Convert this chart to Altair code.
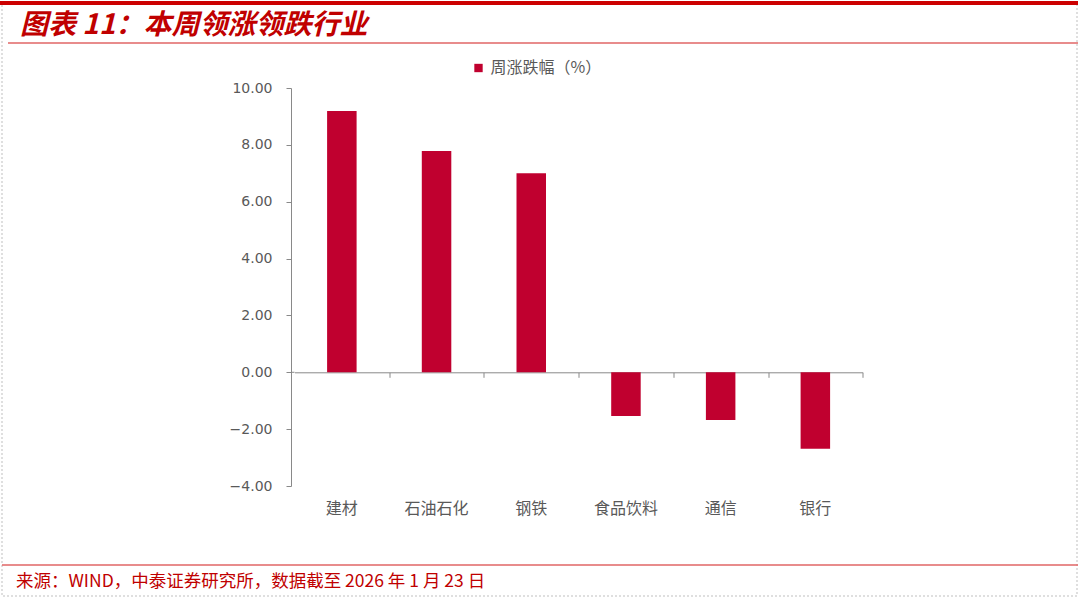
import altair as alt
import pandas as pd

# Weekly leading / lagging industries
industries = ["建材", "石油石化", "钢铁", "食品饮料", "通信", "银行"]
weekly_change = [9.19, 7.78, 7.00, -1.54, -1.68, -2.69]
series_name = "周涨跌幅（%）"
y_ticks = [-4, -2, 0, 2, 4, 6, 8, 10]

title_text = "图表 11：本周领涨领跌行业"
source_text = "来源：WIND，中泰证券研究所，数据截至 2026 年 1 月 23 日"

W, H = 1080, 599
PL, PT, PR, PB = 294.5, 88, 1080 - 862.7, 599 - 486
PW, PH = W - PL - PR, H - PT - PB
STEP = PW / len(industries)

FONT = "Noto Sans CJK SC"
NUM_FONT = "DejaVu Sans"
RED = "#C0002F"
GREY = "#898989"
LABEL = "#595959"

df = pd.DataFrame({"行业": industries, "值": weekly_change, "系列": series_name})
one = pd.DataFrame({"k": [0]})

x_scale = alt.Scale(paddingInner=0.689, paddingOuter=0.3445)

y_enc = alt.Y(
    "值:Q", title=None,
    scale=alt.Scale(domain=[-4, 10], nice=False, zero=False),
    axis=alt.Axis(values=y_ticks, format=".2f", grid=False, domainColor=GREY,
                  tickColor=GREY, tickSize=5, offset=3.5, labelFont=NUM_FONT,
                  labelFontSize=14, labelColor=LABEL, labelPadding=14),
)

bars = alt.Chart(df).mark_bar(size=29.5).encode(
    x=alt.X("行业:N", sort=industries, title=None, scale=x_scale,
            axis=alt.Axis(orient="bottom", domain=False, ticks=False,
                          labelAngle=0, labelFont=FONT, labelFontSize=16,
                          labelColor=LABEL, labelPadding=14)),
    y=y_enc,
    color=alt.Color(
        "系列:N", title=None,
        scale=alt.Scale(range=[RED]),
        legend=alt.Legend(orient="none", legendX=176, legendY=-28,
                          symbolType="square", symbolSize=70,
                          symbolStrokeWidth=0, labelFont=FONT,
                          labelFontSize=16, labelColor=LABEL),
    ),
)

# Category axis line drawn along the zero level, ticks between bands
zero_axis = alt.Chart(df).mark_bar(opacity=0, size=29.5).encode(
    x=alt.X("行业:N", sort=industries, title=None, scale=x_scale,
            axis=alt.Axis(orient="bottom", offset=-(486 - 372.3), labels=False,
                          domainColor=GREY, tickColor=GREY, tickSize=5,
                          tickOffset=STEP / 2)),
    y=y_enc,
)

# The zero line also runs under the gap next to the value axis
zero_stub = alt.Chart(one).mark_rule(color=GREY, strokeWidth=1).encode(
    x=alt.value(-3.5), x2=alt.value(0), y=alt.datum(0, type="quantitative"))


def px(v):
    return alt.value(v - PL)


def py(v):
    return alt.value(v - PT)


frame = alt.Chart(one).mark_rect(fill=None, stroke="#BFBFBF", strokeWidth=1,
                                 strokeDash=[2, 2]).encode(
    x=px(2), x2=px(1077), y=py(3), y2=py(596))

top_bar = alt.Chart(one).mark_rect(color="#CC0000").encode(
    x=px(0), x2=px(1078), y=py(1), y2=py(5))

title_line = alt.Chart(one).mark_rule(color="#E06666", strokeWidth=1.5).encode(
    x=px(8), x2=px(1078), y=py(43))

source_line = alt.Chart(one).mark_rule(color="#E06666", strokeWidth=1.5).encode(
    x=px(2), x2=px(1078), y=py(565))

title = alt.Chart(one).mark_text(
    text=title_text, align="left", baseline="alphabetic", font=FONT,
    fontSize=28, fontWeight="bold", fontStyle="italic", color="#C00000",
).encode(x=px(20), y=py(34))

source = alt.Chart(one).mark_text(
    text=source_text, align="left", baseline="alphabetic", font=FONT,
    fontSize=17.5, color="#C00000",
).encode(x=px(16), y=py(587))

chart = alt.layer(
    frame, top_bar, title_line, source_line, title, source, bars, zero_axis,
    zero_stub,
).resolve_axis(x="independent", y="shared").properties(
    width=PW, height=PH,
    autosize=alt.AutoSizeParams(type="none"),
    padding={"left": PL, "top": PT, "right": PR, "bottom": PB},
    background="white",
).configure_view(stroke=None)

chart.save("out.html", embed_options={"renderer": "svg", "actions": False})
